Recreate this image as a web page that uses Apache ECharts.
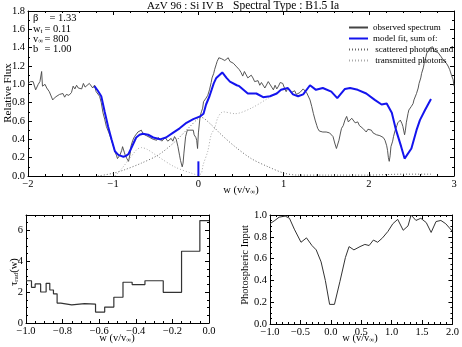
<!DOCTYPE html>
<html>
<head>
<meta charset="utf-8">
<script src="https://cdn.jsdelivr.net/npm/echarts@6/dist/echarts.min.js"></script>
<style>
html, body { margin: 0; padding: 0; background: #fff; }
#chart { width: 462px; height: 347px; }
</style>
</head>
<body>
<div id="chart"></div>
<script>
// spectrum fit, AzV 96 Si IV
var observed = [
  [-2.00,1.01],[-1.97,1.03],[-1.94,1.03],[-1.91,0.94],[-1.88,1.00],[-1.86,1.03],[-1.84,1.14],[-1.83,0.98],
  [-1.80,1.00],[-1.78,0.96],[-1.75,0.92],[-1.71,0.83],[-1.68,0.86],[-1.66,0.87],[-1.63,0.89],[-1.59,0.90],
  [-1.57,0.86],[-1.55,0.89],[-1.52,0.88],[-1.49,0.91],[-1.47,0.98],[-1.45,0.95],[-1.43,0.99],[-1.41,0.96],
  [-1.39,0.98],[-1.37,0.95],[-1.35,1.01],[-1.33,0.97],[-1.31,0.98],[-1.28,1.01],[-1.26,1.02],[-1.24,0.96],
  [-1.22,0.99],[-1.20,0.92],[-1.18,0.94],[-1.16,0.87],[-1.14,0.80],[-1.12,0.69],[-1.10,0.62],[-1.08,0.54],
  [-1.05,0.47],[-1.02,0.39],[-1.00,0.33],[-0.98,0.27],[-0.96,0.22],[-0.95,0.19],[-0.93,0.20],[-0.92,0.23],
  [-0.90,0.28],[-0.89,0.32],[-0.87,0.26],[-0.86,0.23],[-0.84,0.19],[-0.82,0.16],[-0.80,0.25],[-0.79,0.33],
  [-0.77,0.39],[-0.75,0.43],[-0.73,0.45],[-0.71,0.48],[-0.69,0.47],[-0.67,0.50],[-0.65,0.46],[-0.63,0.48],
  [-0.61,0.44],[-0.59,0.45],[-0.57,0.42],[-0.55,0.43],[-0.53,0.40],[-0.51,0.41],[-0.49,0.39],[-0.47,0.42],
  [-0.45,0.41],[-0.43,0.38],[-0.41,0.39],[-0.39,0.42],[-0.38,0.41],[-0.36,0.38],[-0.34,0.39],[-0.32,0.41],
  [-0.30,0.38],[-0.28,0.43],[-0.26,0.40],[-0.24,0.32],[-0.22,0.22],[-0.21,0.17],[-0.19,0.10],[-0.18,0.14],
  [-0.17,0.25],[-0.15,0.43],[-0.13,0.50],[-0.12,0.52],[-0.10,0.50],[-0.08,0.48],[-0.06,0.50],[-0.05,0.45],
  [-0.03,0.42],[-0.02,0.39],[-0.01,0.30],[0.00,0.47],[0.02,0.65],[0.035,0.70],[0.05,0.74],[0.06,0.81],
  [0.08,0.80],[0.09,0.85],[0.11,0.88],[0.13,0.94],[0.15,1.02],[0.16,1.07],[0.18,1.12],[0.19,1.16],
  [0.21,1.22],[0.22,1.25],[0.24,1.29],[0.25,1.27],[0.27,1.28],[0.29,1.30],[0.31,1.26],[0.33,1.27],
  [0.35,1.29],[0.37,1.25],[0.39,1.26],[0.41,1.23],[0.43,1.21],[0.45,1.19],[0.47,1.20],[0.48,1.16],
  [0.50,1.13],[0.52,1.09],[0.54,1.14],[0.56,1.12],[0.58,1.07],[0.60,1.05],[0.62,1.10],[0.64,1.07],
  [0.66,1.03],[0.68,1.01],[0.70,1.04],[0.72,0.99],[0.74,1.02],[0.76,1.01],[0.78,0.96],[0.80,0.98],
  [0.82,1.03],[0.84,1.01],[0.86,0.97],[0.88,0.94],[0.90,0.99],[0.92,0.95],[0.94,0.98],[0.96,1.02],
  [0.99,1.01],[1.01,0.96],[1.03,0.92],[1.05,0.96],[1.07,0.94],[1.09,0.91],[1.11,0.90],[1.13,0.93],
  [1.15,0.89],[1.17,0.87],[1.19,0.91],[1.21,0.90],[1.23,0.95],[1.25,0.94],[1.27,0.91],[1.29,0.89],
  [1.31,0.83],[1.33,0.76],[1.35,0.68],[1.37,0.61],[1.39,0.55],[1.40,0.52],[1.42,0.49],[1.44,0.47],
  [1.46,0.48],[1.48,0.47],[1.50,0.48],[1.52,0.46],[1.54,0.47],[1.56,0.46],[1.58,0.43],[1.60,0.36],
  [1.62,0.30],[1.63,0.32],[1.65,0.39],[1.67,0.48],[1.68,0.52],[1.70,0.55],[1.72,0.61],[1.74,0.65],
  [1.76,0.59],[1.78,0.58],[1.80,0.63],[1.82,0.61],[1.84,0.58],[1.85,0.56],[1.87,0.59],[1.89,0.55],
  [1.91,0.54],[1.93,0.52],[1.95,0.51],[1.97,0.48],[1.99,0.51],[2.01,0.50],[2.03,0.50],[2.05,0.47],
  [2.07,0.48],[2.09,0.45],[2.11,0.46],[2.13,0.44],[2.15,0.43],[2.17,0.42],[2.19,0.39],[2.21,0.33],
  [2.22,0.28],[2.23,0.20],[2.24,0.16],[2.25,0.22],[2.26,0.32],[2.28,0.38],[2.29,0.43],[2.31,0.50],
  [2.33,0.55],[2.34,0.58],[2.36,0.57],[2.37,0.61],[2.39,0.57],[2.40,0.54],[2.42,0.45],[2.43,0.50],
  [2.44,0.58],[2.46,0.68],[2.47,0.72],[2.49,0.71],[2.50,0.76],[2.52,0.79],[2.53,0.83],[2.55,0.85],
  [2.56,0.90],[2.58,0.96],[2.59,1.01],[2.61,1.07],[2.62,1.12],[2.64,1.18],[2.65,1.23],[2.67,1.30],
  [2.68,1.34],[2.70,1.37],[2.72,1.40],[2.73,1.38],[2.75,1.41],[2.77,1.36],[2.79,1.38],[2.81,1.35],
  [2.83,1.34],[2.85,1.30],[2.87,1.27],[2.89,1.28],[2.91,1.23],[2.93,1.20],[2.95,1.16],[2.97,1.10],
  [2.99,1.05],[3.00,0.98]
];
var modelFit = [
  [-1.22,0.98],[-1.18,0.93],[-1.14,0.87],[-1.10,0.70],[-1.06,0.54],[-1.02,0.40],[-0.98,0.27],[-0.94,0.23],
  [-0.91,0.22],[-0.88,0.21],[-0.85,0.22],[-0.82,0.24],[-0.79,0.30],[-0.76,0.36],[-0.73,0.42],[-0.69,0.45],
  [-0.65,0.46],[-0.59,0.45],[-0.53,0.42],[-0.45,0.40],[-0.38,0.42],[-0.30,0.47],[-0.22,0.52],[-0.14,0.58],
  [-0.06,0.62],[0.02,0.65],[0.06,0.68],[0.09,0.78],[0.13,0.87],[0.18,1.01],[0.21,1.07],[0.28,1.13],
  [0.33,1.07],[0.37,1.03],[0.45,0.99],[0.48,0.98],[0.58,0.90],[0.68,0.90],[0.76,0.86],[0.84,0.87],
  [0.92,0.90],[0.97,0.94],[1.05,0.96],[1.11,0.89],[1.17,0.87],[1.23,0.89],[1.31,0.99],[1.38,0.94],
  [1.46,0.96],[1.56,0.92],[1.63,0.85],[1.72,0.95],[1.78,0.96],[1.87,0.94],[1.97,0.90],[2.07,0.83],
  [2.15,0.78],[2.21,0.79],[2.27,0.69],[2.32,0.50],[2.38,0.32],[2.42,0.19],[2.50,0.30],[2.56,0.50],
  [2.60,0.61],[2.66,0.72],[2.73,0.84]
];
var modelSpike = [[0.0,0.0],[0.0,0.16]];
var scattered = [
  [-1.18,0.0],[-1.00,0.03],[-0.86,0.07],[-0.67,0.14],[-0.47,0.23],[-0.28,0.37],[-0.12,0.52],[0.0,0.63],
  [0.03,0.64],[0.15,0.56],[0.27,0.45],[0.43,0.32],[0.62,0.19],[0.82,0.10],[1.01,0.03],[1.17,0.01],
  [1.50,0.01],[2.00,0.01],[2.40,0.02],[2.73,0.02]
];
var transmitted = [
  [-0.98,0.0],[-0.90,0.08],[-0.80,0.20],[-0.72,0.29],[-0.67,0.31],[-0.60,0.29],[-0.47,0.21],[-0.28,0.10],
  [-0.08,0.03],[0.0,0.01],[0.035,0.03],[0.055,0.12],[0.11,0.27],[0.15,0.45],[0.19,0.52],[0.23,0.64],
  [0.29,0.70],[0.43,0.68],[0.62,0.74],[0.82,0.85],[0.97,0.94]
];
// tau_rad step bins (left edges) and values
var tauEdges = [-1.0,-0.97,-0.95,-0.92,-0.89,-0.87,-0.85,-0.83,-0.81,-0.75,-0.68,-0.62,-0.57,-0.52,-0.47,-0.42,-0.35,-0.25,-0.15,-0.05];
var tauVals  = [2.74,2.31,2.53,2.01,2.57,2.14,1.89,1.29,1.18,1.26,1.22,0.71,1.03,1.67,2.64,2.49,2.74,1.99,4.65,6.64];
// photospheric input
var photoW = [-1.0,-0.92,-0.85,-0.75,-0.68,-0.60,-0.49,-0.40,-0.31,-0.24,-0.16,-0.09,-0.02,0.06,0.15,0.24,0.30,0.38,0.48,0.56,
  0.63,0.70,0.77,0.85,0.94,1.02,1.10,1.19,1.27,1.32,1.40,1.48,1.57,1.65,1.73,1.81,1.89,2.0];
var photoF = [0.92,0.95,0.98,0.99,0.97,0.87,0.75,0.79,0.72,0.68,0.57,0.40,0.18,0.18,0.39,0.61,0.71,0.68,0.71,0.73,
  0.72,0.77,0.75,0.79,0.85,0.92,0.96,0.86,0.90,1.0,0.95,0.97,0.93,0.84,0.94,0.95,0.92,0.85];

var FONT = 'Liberation Serif';
var BLUE = '#1414ee';

var tauData = tauEdges.map(function (e, i) { return [e, tauVals[i]]; });
tauData.push([0.0, tauVals[tauVals.length - 1]]);
var photoData = photoW.map(function (w, i) { return [w, photoF[i]]; });

function fmt(d) {
  return function (v) { return v.toFixed(d).replace('-', '\u2212'); };
}

function axis(grid, pos, min, max, interval, minorN, labelFn, extra) {
  var a = {
    type: 'value', gridIndex: grid, position: pos, min: min, max: max, interval: interval,
    axisLine: { show: true, onZero: false, lineStyle: { color: '#000', width: 1 } },
    axisTick: { show: true, inside: true, length: 4, lineStyle: { color: '#000' } },
    minorTick: { show: true, splitNumber: minorN, length: 2, lineStyle: { color: '#000' } },
    splitLine: { show: false },
    axisLabel: labelFn ? { show: true, formatter: labelFn, color: '#000', fontFamily: FONT, fontSize: 10.5, margin: 3 } : { show: false }
  };
  if (extra) { for (var k in extra) a.axisLabel[k] = extra[k]; }
  return a;
}

function txt(x, y, text, size, extra) {
  var st = { text: text, fontFamily: FONT, fontSize: size, fill: '#000', align: 'center', verticalAlign: 'middle' };
  var rot = 0;
  if (extra) {
    for (var k in extra) {
      if (k === 'rot') rot = extra[k]; else st[k] = extra[k];
    }
  }
  return { type: 'text', x: x, y: y, rotation: rot, style: st };
}

var subRich = {
  n: { fontFamily: FONT, fontSize: 10.5, fill: '#000' },
  s: { fontFamily: FONT, fontSize: 7, fill: '#000', padding: [5, 0, 0, 0] }
};

var myChart = echarts.init(document.getElementById('chart'), null, { renderer: 'canvas' });

var option = {
  animation: false,
  backgroundColor: '#fff',
  grid: [
    { left: 28, top: 11, width: 426, height: 165 },
    { left: 26, top: 215, width: 183, height: 108 },
    { left: 270, top: 215, width: 184, height: 109 }
  ],
  xAxis: [
    axis(0, 'bottom', -2, 3, 1, 5, fmt(0)),
    axis(0, 'top', -2, 3, 1, 5, null),
    axis(1, 'bottom', -1, 0, 0.2, 4, fmt(1)),
    axis(1, 'top', -1, 0, 0.2, 4, null),
    axis(2, 'bottom', -1, 2, 0.5, 5, fmt(1)),
    axis(2, 'top', -1, 2, 0.5, 5, null)
  ],
  yAxis: [
    axis(0, 'left', 0, 1.8, 0.2, 2, fmt(1)),
    axis(0, 'right', 0, 1.8, 0.2, 2, null),
    axis(1, 'left', 0, 7, 2, 4, fmt(0), { showMaxLabel: false }),
    axis(1, 'right', 0, 7, 2, 4, null),
    axis(2, 'left', 0, 1, 0.2, 4, fmt(1)),
    axis(2, 'right', 0, 1, 0.2, 4, null)
  ],
  legend: {
    orient: 'vertical',
    left: 343,
    top: 18,
    itemWidth: 19,
    itemHeight: 10,
    itemGap: 2,
    itemStyle: { opacity: 0 },
    textStyle: { fontFamily: FONT, fontSize: 9, color: '#000' },
    data: ['observed spectrum', 'model fit, sum of:', ' scattered photons and', ' transmitted photons']
  },
  series: [
    {
      name: 'observed spectrum', type: 'line', xAxisIndex: 0, yAxisIndex: 0, data: observed,
      symbol: 'none', lineStyle: { color: '#444', width: 0.9 }, itemStyle: { color: '#444' }
    },
    {
      name: ' scattered photons and', type: 'line', xAxisIndex: 0, yAxisIndex: 0, data: scattered,
      symbol: 'none', smooth: 0.3, lineStyle: { color: '#666', width: 1, type: [1, 2] }, itemStyle: { color: '#666' }
    },
    {
      name: ' transmitted photons', type: 'line', xAxisIndex: 0, yAxisIndex: 0, data: transmitted,
      symbol: 'none', smooth: 0.3, lineStyle: { color: '#aaa', width: 1, type: [1, 2] }, itemStyle: { color: '#aaa' }
    },
    {
      name: 'model fit, sum of:', type: 'line', xAxisIndex: 0, yAxisIndex: 0, data: modelFit,
      symbol: 'none', lineStyle: { color: BLUE, width: 2 }, itemStyle: { color: BLUE }
    },
    {
      name: 'spike', type: 'line', xAxisIndex: 0, yAxisIndex: 0, data: modelSpike,
      symbol: 'none', lineStyle: { color: BLUE, width: 2 }
    },
    {
      name: 'tau', type: 'line', xAxisIndex: 2, yAxisIndex: 2, data: tauData, step: 'end',
      symbol: 'none', lineStyle: { color: '#333', width: 1.2 }
    },
    {
      name: 'photo', type: 'line', xAxisIndex: 4, yAxisIndex: 4, data: photoData,
      symbol: 'none', lineStyle: { color: '#333', width: 1 }
    }
  ],
  graphic: [
    txt(147, 6, 'AzV 96 : Si IV B', 11, { align: 'left' }),
    txt(233, 6, 'Spectral Type : B1.5 Ia', 11.5, { align: 'left' }),
    // fit parameters
    txt(33, 18, '\u03b2', 10.5, { align: 'left' }),
    txt(33, 29, '{n|w}{s|t}', 10.5, { align: 'left', rich: subRich }),
    txt(33, 39, '{n|v}{s|\u221e}', 10.5, { align: 'left', rich: subRich }),
    txt(33, 49, 'b', 10.5, { align: 'left' }),
    txt(52.5, 18, '=', 10.5),
    txt(47.5, 29, '=', 10.5),
    txt(47.5, 39, '=', 10.5),
    txt(47.5, 49, '=', 10.5),
    txt(58, 18, '1.33', 10.5, { align: 'left' }),
    txt(53, 29, '0.11', 10.5, { align: 'left' }),
    txt(53, 39, '800', 10.5, { align: 'left' }),
    txt(53, 49, '1.00', 10.5, { align: 'left' }),
    // axis names
    txt(8, 93, 'Relative Flux', 11, { rot: Math.PI / 2 }),
    txt(241, 190, '{n|w (v/v}{s|\u221e}{n|)}', 10.5, { rich: subRich }),
    txt(14, 272, '{n|\u03c4}{s|rad}{n|(w)}', 10.5, { rich: subRich, rot: Math.PI / 2 }),
    txt(117, 338, '{n|w (v/v}{s|\u221e}{n|)}', 10.5, { rich: subRich }),
    txt(245, 265, 'Photospheric Input', 10.5, { rot: Math.PI / 2 }),
    txt(360, 338, '{n|w (v/v}{s|\u221e}{n|)}', 10.5, { rich: subRich })
  ]
};

myChart.setOption(option, true);
window.addEventListener('resize', function () { myChart.resize(); });
</script>
</body>
</html>
